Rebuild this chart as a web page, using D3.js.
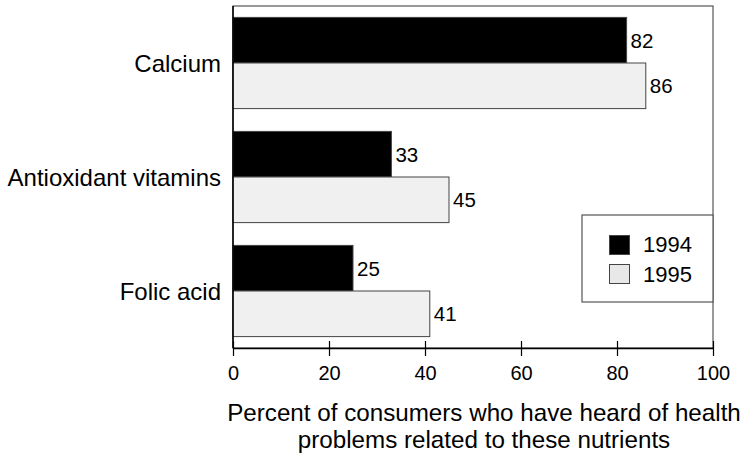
<!DOCTYPE html>
<html>
<head>
<meta charset="utf-8">
<script src="https://cdn.jsdelivr.net/npm/d3@7"></script>
<style>
  html, body { margin: 0; padding: 0; background: #fff; }
  svg { display: block; font-family: "Liberation Sans", Arial, Helvetica, sans-serif; }
</style>
</head>
<body>
<svg id="chart" width="741" height="459"></svg>
<script>
// Awareness of nutrient-related health problems, by year
const categories = ["Calcium", "Antioxidant vitamins", "Folic acid"];
const years = ["1994", "1995"];
const values1994 = [82, 33, 25];
const values1995 = [86, 45, 41];
const xTicks = [0, 20, 40, 60, 80, 100];
const titleLines = ["Percent of consumers who have heard of health", "problems related to these nutrients"];

const fills = { "1994": "#000000", "1995": "#f0f0f0" };
const series = { "1994": values1994, "1995": values1995 };

const svg = d3.select("#chart");
const plotLeft = 233, plotRight = 713, plotTop = 6, plotBottom = 348;

const x = d3.scaleLinear().domain([0, 100]).range([plotLeft, plotRight]);
const y = d3.scaleBand().domain(categories).range([plotTop, plotBottom])
  .paddingInner(0.2).paddingOuter(0.1);
const ySub = d3.scaleBand().domain(years).range([0, y.bandwidth()]);

// plot frame
svg.append("rect")
  .attr("x", plotLeft).attr("y", plotTop)
  .attr("width", plotRight - plotLeft).attr("height", plotBottom - plotTop)
  .attr("fill", "none").attr("stroke", "#555").attr("stroke-width", 1.2);

// bars
const groups = svg.selectAll("g.cat").data(categories).join("g")
  .attr("class", "cat")
  .attr("transform", d => `translate(0,${y(d)})`);

years.forEach(yr => {
  groups.append("rect")
    .attr("x", x(0))
    .attr("y", ySub(yr))
    .attr("width", (d, i) => x(series[yr][i]) - x(0))
    .attr("height", ySub.bandwidth())
    .attr("fill", fills[yr])
    .attr("stroke", "#444").attr("stroke-width", 1);

  groups.append("text")
    .attr("x", (d, i) => x(series[yr][i]) + 4)
    .attr("y", ySub(yr) + ySub.bandwidth() / 2 + 7.5)
    .attr("font-size", 20.5)
    .attr("fill", "#000")
    .text((d, i) => series[yr][i]);
});

// category labels
svg.selectAll("text.cat-label").data(categories).join("text")
  .attr("class", "cat-label")
  .attr("x", plotLeft - 12)
  .attr("y", d => y(d) + y.bandwidth() / 2 + 9)
  .attr("text-anchor", "end")
  .attr("font-size", 24)
  .attr("fill", "#000")
  .text(d => d);

// left axis line
svg.append("line")
  .attr("x1", plotLeft).attr("x2", plotLeft)
  .attr("y1", plotTop).attr("y2", plotBottom)
  .attr("stroke", "#000").attr("stroke-width", 1.5);

// x axis
const xAxis = d3.axisBottom(x).tickValues(xTicks).tickSize(0).tickPadding(0);
const gx = svg.append("g").attr("transform", `translate(0,${plotBottom})`).call(xAxis);
gx.select(".domain").attr("stroke", "#000").attr("stroke-width", 1.5);
gx.selectAll(".tick line").remove();
gx.selectAll(".tick").append("line")
  .attr("y1", -7).attr("y2", 8)
  .attr("stroke", "#000").attr("stroke-width", 1.2);
gx.selectAll(".tick text")
  .attr("font-size", 20)
  .attr("font-family", "Liberation Sans, Arial, sans-serif")
  .attr("fill", "#000")
  .attr("dy", null)
  .attr("y", 32);

// axis title
svg.append("text")
  .attr("x", 484).attr("y", 421)
  .attr("text-anchor", "middle")
  .attr("font-size", 24.2).attr("fill", "#000")
  .selectAll("tspan").data(titleLines).join("tspan")
  .attr("x", 484)
  .attr("dy", (d, i) => i === 0 ? 0 : 27)
  .text(d => d);

// legend
const lg = svg.append("g");
lg.append("rect")
  .attr("x", 582).attr("y", 215)
  .attr("width", plotRight - 582).attr("height", 87)
  .attr("fill", "#fff").attr("stroke", "#555").attr("stroke-width", 1.2);
years.forEach((yr, i) => {
  lg.append("rect")
    .attr("x", 609.5).attr("y", 235.5 + i * 29)
    .attr("width", 20).attr("height", 19)
    .attr("fill", yr === "1995" ? "#e8e8e8" : fills[yr])
    .attr("stroke", "#444").attr("stroke-width", 1);
  lg.append("text")
    .attr("x", 643).attr("y", 252 + i * 29.5)
    .attr("font-size", 22).attr("fill", "#000")
    .text(yr);
});
</script>
</body>
</html>
